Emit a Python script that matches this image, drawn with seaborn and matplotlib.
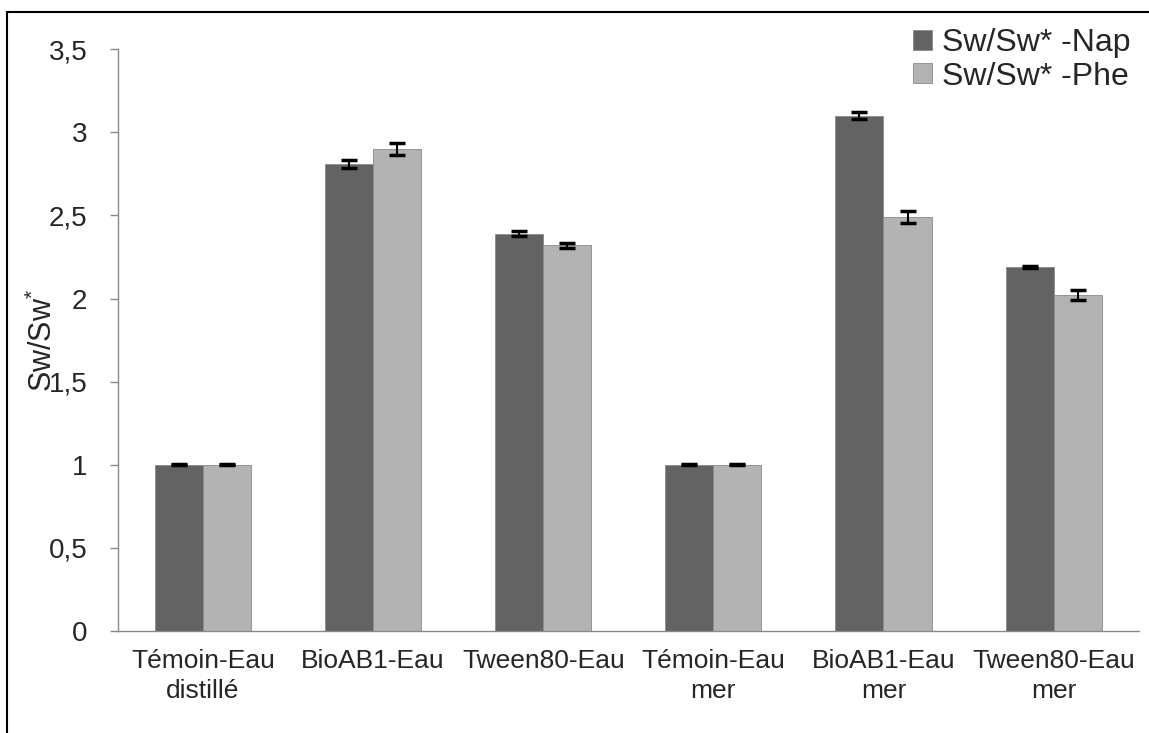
import pandas as pd
import seaborn as sns
import matplotlib.pyplot as plt
from matplotlib.patches import Rectangle

categories = ["Témoin-Eau\ndistillé", "BioAB1-Eau", "Tween80-Eau",
              "Témoin-Eau\nmer", "BioAB1-Eau\nmer", "Tween80-Eau\nmer"]
series = ["Sw/Sw* -Nap", "Sw/Sw* -Phe"]
nap = [1.0, 2.81, 2.39, 1.0, 3.10, 2.19]
phe = [1.0, 2.90, 2.32, 1.0, 2.49, 2.02]
nap_err = [0.004, 0.022, 0.016, 0.003, 0.02, 0.005]
phe_err = [0.004, 0.036, 0.017, 0.003, 0.038, 0.03]
yticks = [0, 0.5, 1, 1.5, 2, 2.5, 3, 3.5]
ytick_labels = ["0", "0,5", "1", "1,5", "2", "2,5", "3", "3,5"]

df = pd.DataFrame({
    "cat": categories * 2,
    "serie": [series[0]] * 6 + [series[1]] * 6,
    "val": nap + phe,
})

sns.set_style("white")
plt.rcParams["font.family"] = ["Liberation Sans", "DejaVu Sans"]
plt.rcParams["mathtext.default"] = "regular"

fig = plt.figure(figsize=(11.49, 7.33), dpi=100)
ax = fig.add_axes([0.1027, 0.139, 0.8883, 0.794])

sns.barplot(data=df, x="cat", y="val", hue="serie", order=categories,
            hue_order=series, palette=["#636363", "#b3b3b3"], width=0.565,
            saturation=1, errorbar=None, ax=ax, edgecolor="#8a8a8a", linewidth=0.6)

for cont, errs in zip(ax.containers, [nap_err, phe_err]):
    xs = [b.get_x() + b.get_width() / 2 for b in cont]
    ys = [b.get_height() for b in cont]
    ax.errorbar(xs, ys, yerr=errs, fmt="none", ecolor="black",
                elinewidth=1.5, capsize=6, capthick=2.5)

ax.set_xlim(-0.5, 5.5)
ax.set_ylim(0, 3.5)
ax.set_yticks(yticks)
ax.set_yticklabels(ytick_labels, fontsize=20)
ax.set_xticks(range(6))
ax.set_xticklabels(categories, fontsize=19, linespacing=1.3)
ax.set_xticks([i - 0.5 for i in range(7)], minor=True)
ax.tick_params(axis="x", which="major", length=0, pad=13)
ax.tick_params(axis="x", which="minor", length=7, color="#888888", width=1)
ax.tick_params(axis="y", length=6, color="#888888", width=1, pad=16, left=True)
ax.set_xlabel("")
ax.set_ylabel("Sw/Sw$^{*}$", fontsize=22)
ax.yaxis.set_label_coords(-0.058, 0.5)

for s in ["top", "right"]:
    ax.spines[s].set_visible(False)
for s in ["left", "bottom"]:
    ax.spines[s].set_color("#888888")
    ax.spines[s].set_linewidth(1)

ax.legend(frameon=False, loc="upper right", bbox_to_anchor=(1.02, 1.085),
          fontsize=23, handlelength=0.6, handleheight=0.6, handletextpad=0.3,
          labelspacing=0.1)

fig.add_artist(Rectangle((7 / 1149, -0.5), 2, 0.5 + 1 - 12 / 733,
                         transform=fig.transFigure, fill=False,
                         edgecolor="black", linewidth=1.5))

fig.savefig("out.png", dpi=100)
